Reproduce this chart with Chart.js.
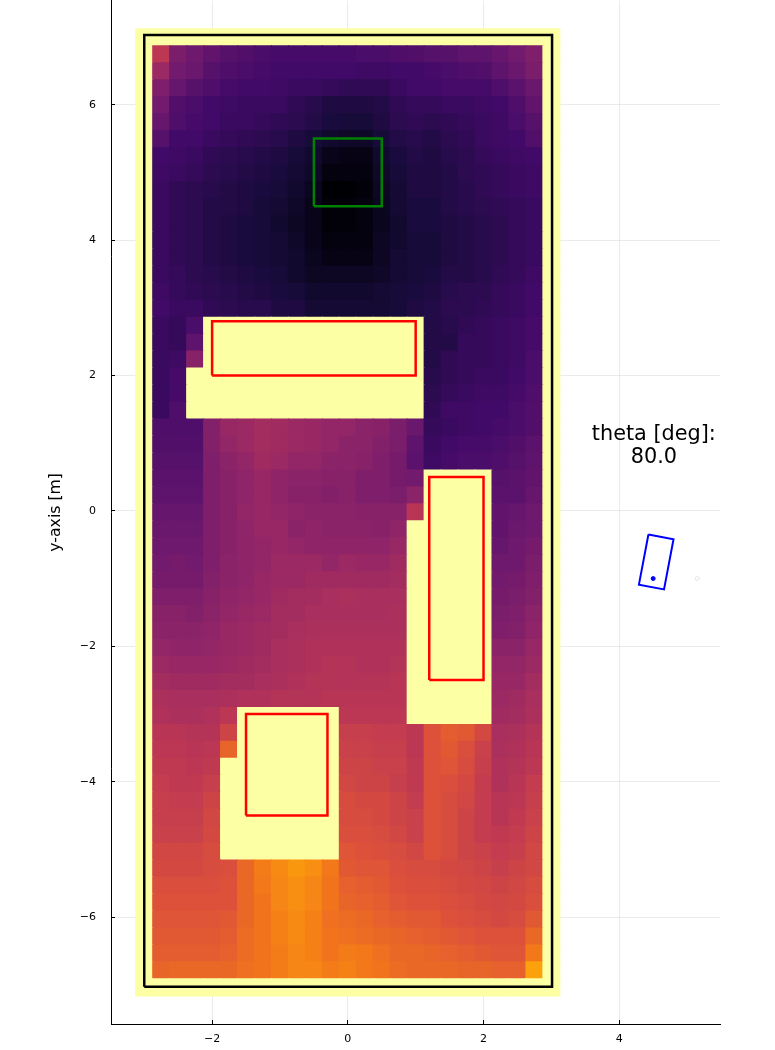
<!DOCTYPE html>
<html>
<head>
<meta charset="utf-8">
<title>theta map</title>
<script src="https://cdn.jsdelivr.net/npm/chart.js@4"></script>
<style>
  html, body { margin: 0; padding: 0; background: #fff; }
  #frame { width: 775px; height: 1050px; overflow: hidden; position: relative; }
  canvas { display: block; position: absolute; left: 0; top: -12px; }
</style>
</head>
<body>
<div id="frame"><canvas id="mapChart" width="775" height="1062"></canvas></div>
<script>
const Y = 100; // blocked cell, top of the colour range

// cell centres; the outer ring of the grid is all blocked
const xCells = [-3, -2.75, -2.5, -2.25, -2, -1.75, -1.5, -1.25, -1, -0.75, -0.5, -0.25, 0, 0.25, 0.5, 0.75, 1, 1.25, 1.5, 1.75, 2, 2.25, 2.5, 2.75, 3];
const yCells = [6.995, 6.744, 6.494, 6.243, 5.993, 5.742, 5.491, 5.241, 4.99, 4.74, 4.489, 4.238, 3.988, 3.737, 3.487, 3.236, 2.985, 2.735, 2.484, 2.234, 1.983, 1.732, 1.482, 1.231, 0.981, 0.73, 0.479, 0.229, -0.022, -0.272, -0.523, -0.774, -1.024, -1.275, -1.525, -1.776, -2.027, -2.277, -2.528, -2.778, -3.029, -3.28, -3.53, -3.781, -4.031, -4.282, -4.533, -4.783, -5.034, -5.284, -5.535, -5.786, -6.036, -6.287, -6.537, -6.788, -7.039];

// values, 0-100 on the inferno range, rows from the top, x = -2.75 to 2.75
const heatRows = [
  [50,34,31,28,25,24,22,21,21,21,21,21,22,22,23,24,25,25,27,27,29,32,35],
  [42,32,30,25,23,22,21,20,20,20,20,20,19,19,20,20,21,22,23,24,27,30,34],
  [35,29,25,23,21,20,20,19,18,18,17,16,16,16,18,20,20,21,21,21,23,26,30],
  [32,24,22,20,19,18,18,18,16,14,12,12,12,13,16,17,17,18,18,19,20,23,28],
  [29,23,21,20,18,18,17,16,15,13,11,10,10,12,15,16,15,16,17,18,19,22,25],
  [25,20,20,18,17,16,15,14,12,10,8,7,7,10,13,14,13,15,16,18,19,20,24],
  [20,19,18,16,15,14,13,12,10,8,4,3,3,8,11,13,12,14,15,17,18,19,20],
  [19,18,17,15,14,13,12,11,9,7,2,2,2,7,10,12,12,13,15,16,17,18,19],
  [18,16,15,14,13,12,11,10,8,5,0,0,1,6,9,12,12,13,14,16,17,18,19],
  [18,16,15,13,13,12,10,9,7,4,1,1,2,5,9,11,11,13,14,15,16,17,18],
  [18,16,15,13,12,11,10,8,6,4,1,1,2,5,8,11,11,12,13,14,15,17,18],
  [18,16,15,13,12,11,10,9,7,4,2,2,2,6,8,10,10,12,13,14,15,17,18],
  [18,16,15,13,12,11,10,9,8,5,3,3,3,6,9,10,10,12,13,14,15,17,18],
  [18,17,15,14,13,12,11,10,8,6,6,6,6,7,9,10,11,13,13,14,16,17,19],
  [19,17,16,15,14,13,12,11,10,8,8,8,8,9,10,11,12,14,15,15,17,18,20],
  [20,18,18,16,15,14,14,12,12,9,9,9,9,9,10,12,13,15,15,16,17,18,20],
  [18,17,22,Y,Y,Y,Y,Y,Y,Y,Y,Y,Y,Y,Y,Y,13,14,16,17,18,19,21],
  [18,17,27,Y,Y,Y,Y,Y,Y,Y,Y,Y,Y,Y,Y,Y,13,13,17,17,18,19,21],
  [18,19,37,Y,Y,Y,Y,Y,Y,Y,Y,Y,Y,Y,Y,Y,13,16,17,17,18,19,22],
  [18,21,Y,Y,Y,Y,Y,Y,Y,Y,Y,Y,Y,Y,Y,Y,14,16,17,18,18,20,22],
  [18,21,Y,Y,Y,Y,Y,Y,Y,Y,Y,Y,Y,Y,Y,Y,15,17,18,19,19,21,23],
  [18,23,Y,Y,Y,Y,Y,Y,Y,Y,Y,Y,Y,Y,Y,Y,16,19,19,20,20,22,24],
  [23,23,23,36,41,42,44,43,42,41,40,40,38,37,34,30,17,18,19,20,21,22,24],
  [24,24,24,36,40,42,44,43,42,41,40,38,38,36,34,27,18,20,21,21,22,24,26],
  [25,25,25,35,38,40,43,42,40,40,38,38,37,35,33,26,19,21,22,22,23,25,27],
  [26,26,26,35,37,39,41,39,38,38,37,37,35,35,33,32,Y,Y,Y,Y,25,26,28],
  [27,27,27,35,37,39,41,39,37,37,36,37,35,35,34,38,Y,Y,Y,Y,26,26,29],
  [29,29,29,35,37,40,41,40,39,38,38,38,37,37,37,49,Y,Y,Y,Y,28,29,31],
  [30,30,30,35,37,39,41,41,38,39,38,38,38,37,39,Y,Y,Y,Y,Y,28,30,31],
  [31,31,31,35,37,39,40,41,40,39,39,39,39,39,41,Y,Y,Y,Y,Y,29,31,33],
  [32,33,32,35,38,39,40,42,42,42,40,42,41,41,43,Y,Y,Y,Y,Y,31,31,34],
  [33,33,33,36,38,39,41,42,42,43,43,43,43,43,44,Y,Y,Y,Y,Y,32,33,35],
  [35,35,35,37,39,40,41,43,44,44,45,46,45,45,45,Y,Y,Y,Y,Y,33,34,36],
  [37,37,36,38,40,41,42,44,44,45,45,45,45,45,46,Y,Y,Y,Y,Y,34,35,38],
  [38,38,38,39,41,42,43,44,45,46,46,46,46,46,46,Y,Y,Y,Y,Y,35,36,39],
  [40,39,39,40,41,42,43,45,46,47,47,47,47,47,47,Y,Y,Y,Y,Y,38,38,41],
  [42,41,41,41,42,43,44,45,46,47,48,48,47,47,48,Y,Y,Y,Y,Y,40,40,42],
  [44,43,43,43,44,44,45,46,47,48,48,48,48,48,49,Y,Y,Y,Y,Y,41,41,44],
  [46,45,45,45,46,47,47,48,48,48,49,49,49,49,49,Y,Y,Y,Y,Y,42,43,45],
  [47,46,46,47,50,Y,Y,Y,Y,Y,Y,50,50,50,50,Y,Y,Y,Y,Y,43,44,46],
  [49,49,48,48,55,Y,Y,Y,Y,Y,Y,53,53,52,52,50,60,63,62,57,45,46,48],
  [50,50,49,50,65,Y,Y,Y,Y,Y,Y,54,54,53,53,50,60,62,59,54,46,47,49],
  [51,51,50,51,Y,Y,Y,Y,Y,Y,Y,55,55,54,54,51,60,61,58,53,47,48,50],
  [52,51,51,53,Y,Y,Y,Y,Y,Y,Y,56,55,55,53,51,60,59,57,52,47,49,52],
  [53,52,52,55,Y,Y,Y,Y,Y,Y,Y,58,57,57,55,52,60,58,56,52,49,50,53],
  [53,53,53,56,Y,Y,Y,Y,Y,Y,Y,58,58,57,55,54,60,58,55,52,49,51,54],
  [54,54,54,57,Y,Y,Y,Y,Y,Y,Y,59,59,58,56,54,60,58,55,52,51,52,55],
  [56,56,56,58,Y,Y,Y,Y,Y,Y,Y,61,60,59,58,56,60,58,55,54,52,53,56],
  [57,57,57,58,59,66,71,74,77,75,70,62,61,61,59,58,58,57,56,55,53,55,56],
  [59,59,59,59,60,66,70,73,75,73,69,64,63,62,60,59,59,58,57,56,55,56,58],
  [60,60,60,60,60,66,69,73,75,73,69,65,64,63,61,60,60,59,58,57,56,57,59],
  [61,61,61,61,62,66,69,72,74,72,68,67,66,64,63,62,62,60,59,58,57,58,62],
  [62,62,62,62,63,67,69,72,74,72,69,68,67,66,65,64,63,62,61,60,60,60,66],
  [63,63,63,63,64,67,69,71,73,72,69,71,70,68,66,66,65,64,63,62,61,61,70],
  [65,66,66,66,66,68,69,71,73,73,71,72,70,69,67,66,66,66,65,65,64,64,79]
];

const xTicks = [-2, 0, 2, 4];
const yTicks = [-6, -4, -2, 0, 2, 4, 6];

const boundaryX = [-3, 3.01, 3.01, -3, -3];
const boundaryY = [-7.03, -7.03, 7.03, 7.03, -7.03];
const goalX = [-0.5, 0.5, 0.5, -0.5, -0.5];
const goalY = [4.5, 4.5, 5.5, 5.5, 4.5];
const wall1X = [-2, 1, 1, -2, -2];
const wall1Y = [2, 2, 2.8, 2.8, 2];
const wall2X = [1.2, 2, 2, 1.2, 1.2];
const wall2Y = [-2.5, -2.5, 0.5, 0.5, -2.5];
const wall3X = [-1.5, -0.3, -0.3, -1.5, -1.5];
const wall3Y = [-4.5, -4.5, -3, -3, -4.5];
const robotX = [4.43, 4.8, 4.66, 4.29, 4.43];
const robotY = [-0.35, -0.42, -1.16, -1.09, -0.35];
const robotCentre = [4.5, -1];
const ghostPoint = [5.15, -1];

const thetaLines = ['theta [deg]:', '80.0'];
const thetaPos = [4.51, 0.95];

const inferno = ['#000004', '#160b39', '#420a68', '#6a176e', '#932667', '#bc3754', '#dd513a', '#f37819', '#fca50a', '#f6d746', '#fcffa4'];

function colourFor(v) {
  const t = Math.min(v, 99.999) / 10;
  const i = Math.floor(t);
  const f = t - i;
  const a = inferno[i], b = inferno[i + 1];
  const ch = k => {
    const p = parseInt(a.substr(k, 2), 16), q = parseInt(b.substr(k, 2), 16);
    return Math.round(p + (q - p) * f);
  };
  return `rgb(${ch(1)},${ch(3)},${ch(5)})`;
}

// full grid = heat rows plus the blocked ring
const cells = [];
yCells.forEach((y, r) => {
  xCells.forEach((x, c) => {
    const inner = r > 0 && r < yCells.length - 1 && c > 0 && c < xCells.length - 1;
    cells.push({ x, y, v: inner ? heatRows[r - 1][c - 1] : Y });
  });
});
const cellColours = cells.map(p => colourFor(p.v));

function pairs(xs, ys) {
  return xs.map((x, i) => ({ x, y: ys[i] }));
}

function outline(xs, ys, colour, width) {
  return {
    data: pairs(xs, ys), showLine: true, fill: false, tension: 0,
    borderColor: colour, borderWidth: width, borderJoinStyle: 'miter',
    pointRadius: 0, order: 1
  };
}

const thetaText = {
  id: 'thetaText',
  afterDatasetsDraw(chart) {
    const ctx = chart.ctx;
    const cx = chart.scales.x.getPixelForValue(thetaPos[0]);
    const cy = chart.scales.y.getPixelForValue(thetaPos[1]);
    ctx.save();
    ctx.fillStyle = '#000';
    ctx.font = '20.8px "DejaVu Sans"';
    ctx.textAlign = 'center';
    ctx.textBaseline = 'middle';
    ctx.fillText(thetaLines[0], cx, cy - 11.5);
    ctx.fillText(thetaLines[1], cx, cy + 11.5);
    ctx.restore();
  }
};

Chart.defaults.font.family = '"DejaVu Sans"';
Chart.defaults.color = '#000';

new Chart(document.getElementById('mapChart'), {
  type: 'scatter',
  data: {
    datasets: [
      {
        data: cells, order: 10, pointStyle: 'rect', pointRadius: 12.75, borderWidth: 0,
        pointBackgroundColor: cellColours, pointBorderWidth: 0
      },
      outline(boundaryX, boundaryY, '#000', 2.5),
      outline(goalX, goalY, '#008000', 2.5),
      outline(wall1X, wall1Y, '#ff0000', 2.5),
      outline(wall2X, wall2Y, '#ff0000', 2.5),
      outline(wall3X, wall3Y, '#ff0000', 2.5),
      outline(robotX, robotY, '#0000ff', 2),
      { data: pairs([robotCentre[0]], [robotCentre[1]]), pointRadius: 2, pointBackgroundColor: '#0000ff', pointBorderColor: '#0000ff', order: 0 },
      { data: pairs([ghostPoint[0]], [ghostPoint[1]]), pointRadius: 2, pointBackgroundColor: '#fff', pointBorderColor: 'rgba(0,0,0,0.12)', pointBorderWidth: 0.8, order: 0 }
    ]
  },
  options: {
    responsive: false,
    animation: false,
    events: [],
    layout: { padding: { left: 0, right: 55, top: 0, bottom: 0 } },
    plugins: { legend: { display: false }, tooltip: { enabled: false } },
    scales: {
      x: {
        type: 'linear', min: -3.49, max: 5.485,
        afterBuildTicks: s => { s.ticks = xTicks.map(value => ({ value })); },
        afterFit: s => { s.height = 26; s.paddingLeft = 0; s.paddingRight = 0; },
        grid: { color: 'rgba(0,0,0,0.08)', lineWidth: 1, tickLength: -4, tickColor: '#000' },
        border: { color: '#000', width: 1 },
        ticks: {
          maxRotation: 0, padding: 13,
          font: { size: 11 },
          callback: v => String(v).replace('-', '\u2212')
        }
      },
      y: {
        type: 'linear', min: -7.58, max: 7.535,
        afterBuildTicks: s => { s.ticks = yTicks.map(value => ({ value })); },
        afterFit: s => { s.width = 111; s.paddingTop = 0; s.paddingBottom = 0; },
        grid: { color: 'rgba(0,0,0,0.08)', lineWidth: 1, tickLength: -4, tickColor: '#000' },
        border: { color: '#000', width: 1 },
        title: { display: true, text: 'y-axis [m]', font: { size: 15.7 }, padding: { top: 47, bottom: 0 } },
        ticks: {
          padding: 19,
          font: { size: 11 },
          callback: v => String(v).replace('-', '\u2212')
        }
      }
    }
  },
  plugins: [thetaText]
});
</script>
</body>
</html>
